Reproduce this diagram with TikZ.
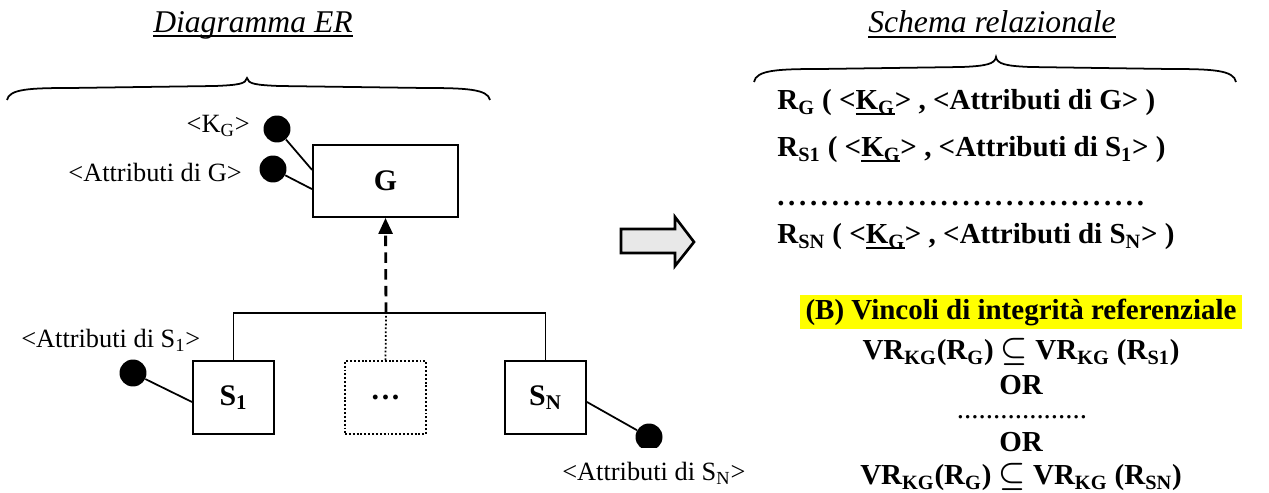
\documentclass[tikz,border=0pt]{standalone}
\usepackage{fontspec}
\setmainfont{Liberation Serif}
\usetikzlibrary{arrows.meta,positioning,calc}
\definecolor{hiyellow}{HTML}{FFFF00}
\definecolor{arrowgray}{HTML}{E8E8E8}
\newcommand{\ulbar}[1]{\setbox0\hbox{#1}\rlap{\rule[-3pt]{\wd0}{1.1pt}}\box0}
\tikzset{
  entity/.style={draw, line width=1.1pt, minimum width=1.62cm, minimum height=1.46cm, inner sep=0pt, font=\fontsize{17}{20}\selectfont\bfseries},
  dotbox/.style={entity, line width=1pt, dash pattern=on 1.1pt off 1.1pt},
  attrdot/.style={circle, fill=black, minimum size=0.54cm, inner sep=0pt},
  lbl/.style={inner sep=0pt, font=\fontsize{15}{18}\selectfont},
  title/.style={inner sep=0pt, font=\fontsize{18}{22}\selectfont\itshape},
  rel/.style={inner sep=0pt, font=\fontsize{16.5}{20}\selectfont\bfseries},
  dotrow/.style={inner sep=0pt, text height=3pt, text depth=0pt},
  link/.style={line width=1pt},
  isa/.style={line width=1.6pt, dash pattern=on 6pt off 3.5pt, -{Triangle[length=0.32cm, width=0.28cm]}}
}

\begin{document}
\begin{tikzpicture}[x=0.02cm, y=-0.02cm]
  \useasboundingbox (0,0) rectangle (1269,493);
  % titles and braces
  \node[title] (ertitle) at (253,25) {\ulbar{Diagramma ER}};
  \node[title] (rstitle) at (992,24) {\ulbar{Schema relazionale}};
  \draw[line width=1pt] (7,100) .. controls (9,89) and (30,88) .. (70,88) -- (215,86) .. controls (238,85) and (246,84) .. (247,78)
    .. controls (248,84) and (256,85) .. (279,86) -- (425,88) .. controls (465,88) and (488,89) .. (490,100);
  \draw[line width=1pt] (754,82) .. controls (756,70) and (778,69) .. (820,69) -- (962,67) .. controls (986,66) and (995,64) .. (996,57)
    .. controls (997,64) and (1006,66) .. (1030,67) -- (1170,69) .. controls (1212,69) and (1234,70) .. (1236,82);

  % ER diagram
  \node[entity, minimum width=2.9cm, minimum height=1.44cm] (gbox) at (385.5,181) {G};
  \node[entity] (s1) at (233.5,397.5) {S\textsubscript{1}};
  \node[dotbox] (sdots) at (385.5,397.5) {.\kern1.5pt.\kern1.5pt.};
  \node[entity] (sn) at (545.5,397.5) {S\textsubscript{N}};

  \node[attrdot] (kg) at (277,129) {};
  \node[attrdot] (ag) at (273,169) {};
  \node[attrdot] (as1) at (133,373) {};
  \begin{scope}
    \clip (600,400) rectangle (700,448);
    \node[attrdot] (asn) at (649,437) {};
  \end{scope}

  \node[lbl, anchor=east] (kglbl) at (250,126) {<K\textsubscript{G}>};
  \node[lbl, anchor=east] (aglbl) at (242,172) {<Attributi di G>};
  \node[lbl, anchor=west] (as1lbl) at (21,340) {<Attributi di S\textsubscript{1}>};
  \node[lbl, anchor=west] (asnlbl) at (562,473) {<Attributi di S\textsubscript{N}>};

  \draw[link] (kg) -- ($(gbox.north west)!0.35!(gbox.south west)$);
  \draw[link] (ag) -- ($(gbox.north west)!0.61!(gbox.south west)$);
  \draw[link] (as1) -- ($(s1.north west)!0.56!(s1.south west)$);
  \draw[link] (asn) -- ($(sn.north east)!0.56!(sn.south east)$);

  \coordinate (hub) at (386,313);
  \draw[link] (s1.north) |- (hub) -| (sn.north);
  \draw[link, dash pattern=on 1pt off 1.2pt] (sdots.north) -- (hub);
  \draw[isa] (hub) -- (gbox.south);

  % translation arrow
  \draw[line width=1.5pt, fill=arrowgray, line join=miter] (621,229) -- (675,229) -- (675,217) -- (694,242) -- (675,266) -- (675,253) -- (621,253) -- cycle;

  % relational schema
  \node[rel, anchor=west] (rg) at (777,103) {R\textsubscript{G} ( <\ulbar{K\textsubscript{G}}> , <Attributi di G> )};
  \node[rel, anchor=west] (rs1) at (777,150) {R\textsubscript{S1} ( <\ulbar{K\textsubscript{G}}> , <Attributi di S\textsubscript{1}> )};
  \node[rel, dotrow, anchor=west] (rdots) at (777,203) {\hbox to 215pt{\leaders\hbox to 6.2pt{.\hss}\hfill}};
  \node[rel, anchor=west] (rsn) at (777,237) {R\textsubscript{SN} ( <\ulbar{K\textsubscript{G}}> , <Attributi di S\textsubscript{N}> )};

  \node[rel, fill=hiyellow, inner xsep=3pt, minimum height=0.68cm] (vinc) at (1021,312) {(B) Vincoli di integrità referenziale};
  \node[rel] (vr1) at (1021,352) {VR\textsubscript{KG}(R\textsubscript{G}) {\boldmath$\subseteq$} VR\textsubscript{KG} (R\textsubscript{S1})};
  \node[rel] (or1) at (1021,385) {OR};
  \node[dotrow, font=\fontsize{16.5}{20}\selectfont] (vdots) at (1022,416) {..................};
  \node[rel] (or2) at (1021,442) {OR};
  \node[rel] (vr2) at (1021,477) {VR\textsubscript{KG}(R\textsubscript{G}) {\boldmath$\subseteq$} VR\textsubscript{KG} (R\textsubscript{SN})};
\end{tikzpicture}
\end{document}
